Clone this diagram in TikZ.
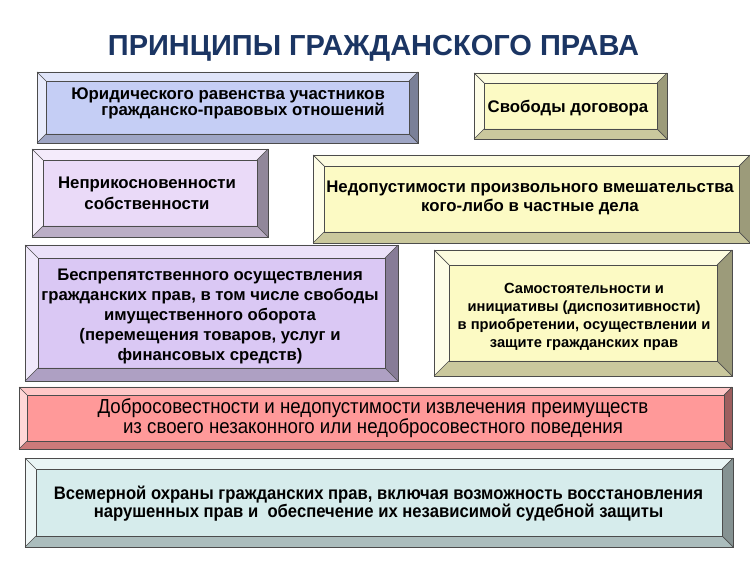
\documentclass[tikz,border=0pt]{standalone}
\usepackage{fontspec}
\setmainfont{Liberation Sans}
\newfontfamily\narrowfont[FakeStretch=0.92]{Liberation Sans}
\usepackage{tikz}
\usetikzlibrary{positioning,calc}
\definecolor{titleblue}{RGB}{27, 53, 99}
\definecolor{boxblue}{RGB}{197, 206, 245}
\definecolor{boxyellow}{RGB}{252, 250, 196}
\definecolor{boxlilac}{RGB}{234, 218, 248}
\definecolor{boxviolet}{RGB}{218, 200, 244}
\definecolor{boxred}{RGB}{255, 153, 153}
\definecolor{boxcyan}{RGB}{214, 236, 236}
\tikzset{
  boxline/.style={draw=black!70, line width=0.7pt},
  txt/.style={inner sep=0pt, align=center, font=\bfseries\fontsize{16.8}{16}\selectfont},
}
% bevelled box: x1 y1 x2 y2 bevel colour
\newcommand\bevbox[6]{%
  \fill[#6] (#1,#2) rectangle (#3,#4);
  \fill[#6!55!white] (#1,#2) -- (#3,#2) -- ({#3-#5},{#2+#5}) -- ({#1+#5},{#2+#5}) -- cycle;
  \fill[#6!40!white] (#1,#2) -- ({#1+#5},{#2+#5}) -- ({#1+#5},{#4-#5}) -- (#1,#4) -- cycle;
  \fill[#6!62!black] (#3,#2) -- (#3,#4) -- ({#3-#5},{#4-#5}) -- ({#3-#5},{#2+#5}) -- cycle;
  \fill[#6!80!black] (#1,#4) -- (#3,#4) -- ({#3-#5},{#4-#5}) -- ({#1+#5},{#4-#5}) -- cycle;
  \draw[boxline] (#1,#2) rectangle (#3,#4) ({#1+#5},{#2+#5}) rectangle ({#3-#5},{#4-#5});
  \draw[boxline] (#1,#2) -- ({#1+#5},{#2+#5}) (#3,#2) -- ({#3-#5},{#2+#5})
                 (#1,#4) -- ({#1+#5},{#4-#5}) (#3,#4) -- ({#3-#5},{#4-#5});
}

\begin{document}
\begin{tikzpicture}[x=1pt,y=-1pt]
  \useasboundingbox[fill=white] (0,0) rectangle (750,561);
  \foreach \xa/\ya/\xb/\yb/\w/\c in {37/72/418/143/9/boxblue, 474/73/667/139/10/boxyellow,
      32/149/268/237/11/boxlilac, 313/155/750/243/11/boxyellow,
      25/245/398/381/13/boxviolet, 434/250/732/376/15/boxyellow,
      19/387/732/449/8/boxred, 25/458/733/547/11/boxcyan}
    {\bevbox{\xa}{\ya}{\xb}{\yb}{\w}{\c}}
  \node (TTL) at (373.5,48) [inner sep=0pt, text=titleblue, font=\bfseries\fontsize{29}{30}\selectfont] {ПРИНЦИПЫ ГРАЖДАНСКОГО ПРАВА};
  \node (JUR) at (385,103) [txt, anchor=east, align=right] {Юридического равенства участников\\гражданско-правовых отношений};
  \node (SVD) at (568,108.5) [txt] {Свободы договора};
  \node (NEP) at (147,193) [txt, font=\bfseries\fontsize{16.8}{21}\selectfont] {Неприкосновенности\\собственности};
  \node (NDP) at (530,197.5) [txt, font=\bfseries\fontsize{16.8}{19}\selectfont] {Недопустимости произвольного вмешательства\\кого-либо в частные дела};
  \node (BSP) at (210,316.5) [txt, font=\bfseries\fontsize{16.7}{20}\selectfont] {Беспрепятственного осуществления\\гражданских прав, в том числе свободы\\имущественного оборота\\(перемещения товаров, услуг и\\финансовых средств)};
  \node (SMS) at (584,316.5) [txt, font=\bfseries\fontsize{14.7}{18}\selectfont] {Самостоятельности и\\инициативы (диспозитивности)\\в приобретении, осуществлении и\\защите гражданских прав};
  \node (DBR) at (373,418.5) [txt, font=\narrowfont\fontsize{20.3}{20}\selectfont] {Добросовестности и недопустимости извлечения преимуществ\\из своего незаконного или недобросовестного поведения};
  \node (VSM) at (378.5,503.5) [txt, font=\narrowfont\bfseries\fontsize{18.1}{18.5}\selectfont] {Всемерной охраны гражданских прав, включая возможность восстановления\\нарушенных прав и\ \ обеспечение их независимой судебной защиты};
\end{tikzpicture}
\end{document}
